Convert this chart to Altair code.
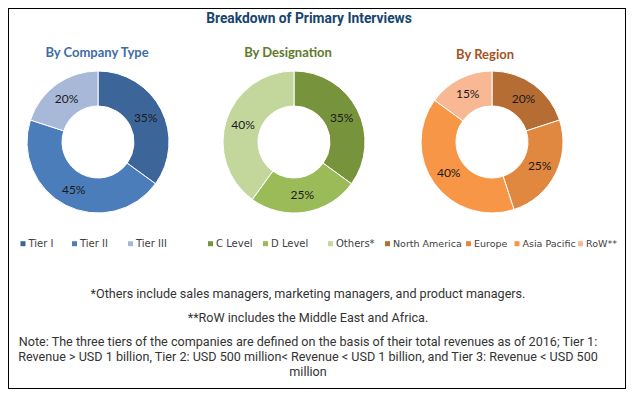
import altair as alt
import pandas as pd

# ---- data ----
company_labels = ["Tier I", "Tier II", "Tier III"]
company_values = [35, 45, 20]
company_colors = ["#3C6699", "#4B7DBA", "#A7B8D8"]

designation_labels = ["C Level", "D Level", "Others*"]
designation_values = [35, 25, 40]
designation_colors = ["#77933C", "#9BBB59", "#C3D69B"]

region_labels = ["North America", "Europe", "Asia Pacific", "RoW**"]
region_values = [20, 25, 40, 15]
region_colors = ["#B66D34", "#E0883F", "#F79646", "#F9B894"]

main_title = "Breakdown of Primary Interviews"
panel_titles = ["By Company Type", "By Designation", "By Region"]
panel_title_colors = ["#3E6DA7", "#5E7A2C", "#A4531F"]

footnotes = [
    "*Others include sales managers, marketing managers, and product managers.",
    "**RoW includes the Middle East and Africa.",
    "Note: The three tiers of the companies are defined on the basis of their total revenues as of 2016; Tier 1:",
    "Revenue > USD 1 billion, Tier 2: USD 500 million< Revenue < USD 1 billion, and Tier 3: Revenue < USD 500",
    "million",
]

# ---- layout ----
W, H = 618, 381
centers_x = [90, 286, 484]
center_y = 134
R_OUT, R_IN = 71, 36
panel_title_y = [45, 45, 47]
panel_title_x = [89, 280, 477]
legend_y = 235.7
legend_sym_x = [[15, 66.5, 122.5], [202.5, 257.5, 322.5], [379.5, 460.5, 509, 572.5]]
legend_font = [10, 10, 9.5]
foot_y = [286, 310, 334, 349, 364]


def donut(labels, values, colors, cx):
    df = pd.DataFrame({"label": labels, "value": values, "idx": list(range(len(labels)))})
    df["pct"] = df["value"].astype(str) + "%"
    base = alt.Chart(df)
    arc = base.mark_arc(radius=R_OUT, innerRadius=R_IN, stroke="white", strokeWidth=1).encode(
        theta=alt.Theta("value:Q", stack=True),
        color=alt.Color("label:N", scale=alt.Scale(domain=labels, range=colors), legend=None),
        order=alt.Order("idx:Q"),
        x=alt.value(cx),
        y=alt.value(center_y),
    )
    txt = base.mark_text(radius=(R_OUT + R_IN) / 2, font="Lato", fontSize=12, color="#1a1a1a").encode(
        theta=alt.Theta("value:Q", stack=True),
        detail="label:N",
        order=alt.Order("idx:Q"),
        text="pct:N",
        x=alt.value(cx),
        y=alt.value(center_y),
    )
    return arc, txt


def legend(labels, colors, xs, fs):
    df = pd.DataFrame({"label": labels, "color": colors, "lx": xs})
    df["tx"] = df["lx"] + 5.5
    base = alt.Chart(df)
    sq = base.mark_square(size=25, opacity=1).encode(
        x=alt.X("lx:Q", scale=None), y=alt.value(legend_y),
        color=alt.Color("color:N", scale=None),
    )
    tx = base.mark_text(align="left", baseline="middle", font="DejaVu Sans", fontSize=fs,
                        color="#404040").encode(
        x=alt.X("tx:Q", scale=None), y=alt.value(legend_y + 0.5), text="label:N",
    )
    return sq, tx


def label(text, x, y, **kw):
    return alt.Chart(pd.DataFrame({"t": [text]})).mark_text(**kw).encode(
        text="t:N", x=alt.value(x), y=alt.value(y)
    )


groups = [
    (company_labels, company_values, company_colors),
    (designation_labels, designation_values, designation_colors),
    (region_labels, region_values, region_colors),
]

layers = []
for i, (labs, vals, cols) in enumerate(groups):
    a, t = donut(labs, vals, cols, centers_x[i])
    s, lt = legend(labs, cols, legend_sym_x[i], legend_font[i])
    layers += [a, t, s, lt]

layers.append(label(main_title, 301, 11, font="Roboto", fontWeight="bold",
                    fontSize=13.8, color="#17456E"))
for t, x, y, c in zip(panel_titles, panel_title_x, panel_title_y, panel_title_colors):
    layers.append(label(t, x, y, font="Lato", fontWeight="bold", fontSize=13, color=c))
for t, y in zip(footnotes, foot_y):
    layers.append(label(t, 300, y, font="Roboto", fontSize=12.6, color="#333333"))

chart = alt.layer(*layers).resolve_scale(color="independent").properties(
    width=W, height=H, autosize=alt.AutoSizeParams(type="none"), padding=0
).configure_view(stroke="black", strokeWidth=2)

chart.save("out.html", embed_options={"renderer": "svg", "actions": False})
